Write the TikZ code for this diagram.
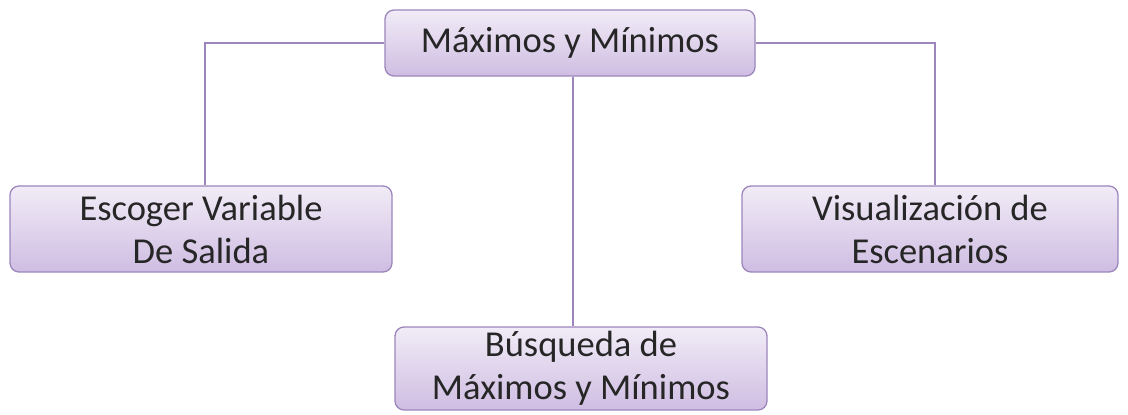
\documentclass[tikz,border=0pt]{standalone}
\usepackage{fontspec}
\setmainfont{Carlito}
\usetikzlibrary{positioning}
\definecolor{lilac}{HTML}{9C86BC}
\definecolor{liltop}{HTML}{F1ECF7}
\definecolor{lilbot}{HTML}{CFBDE2}

\begin{document}
\begin{tikzpicture}[
      x=1pt, y=-1pt,
      topic/.style={rectangle, draw=lilac, line width=1.3pt, rounded corners=9pt,
                    top color=liltop, bottom color=lilbot, align=center,
                    inner sep=0pt, text=black!85,
                    font=\fontsize{36.5}{43}\selectfont},
      link/.style={draw=lilac, line width=2pt}
    ]
    \useasboundingbox (0,0) rectangle (1128,415);
    \node[topic, minimum width=370pt, minimum height=66pt] (maxmin) at (570,43) {Máximos y Mínimos};
    \node[topic, minimum width=382pt, minimum height=86pt] (escoger) at (201,229) {Escoger Variable\\De Salida};
    \node[topic, minimum width=376pt, minimum height=86pt] (visual) at (930,229) {Visualización de\\Escenarios};
    \node[topic, minimum width=372pt, minimum height=83pt] (busqueda) at (581,368.5) {Búsqueda de\\Máximos y Mínimos};

    \draw[link] (maxmin.west) -| ([xshift=4pt]escoger.north);
    \draw[link] (maxmin.east) -| ([xshift=5pt]visual.north);
    \draw[link] ([xshift=3pt]maxmin.south) -- ([xshift=3pt]maxmin.south |- busqueda.north);
\end{tikzpicture}
\end{document}
